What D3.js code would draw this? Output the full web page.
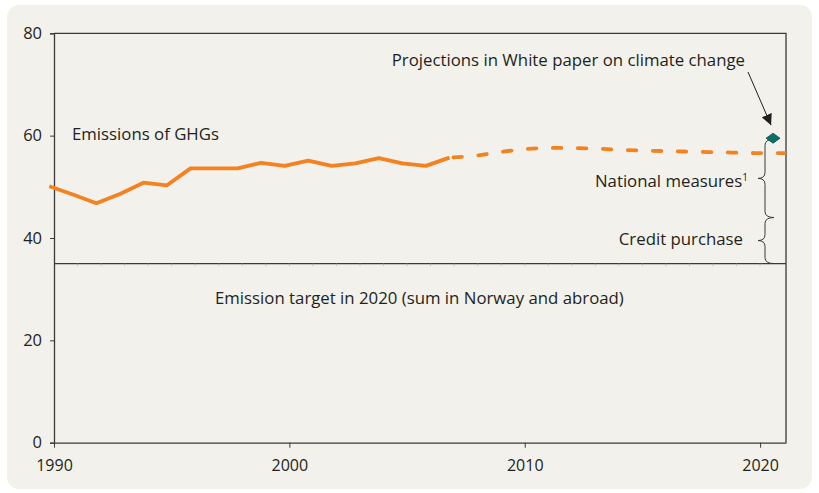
<!DOCTYPE html>
<html>
  <head>
    <script src="https://d3js.org/d3.v7.min.js"></script>
    <style>
      body { margin: 0; background: #ffffff; }
      text { font-family: "Open Sans", sans-serif; fill: #231f20; }
    </style>
  </head>
  <body>
    <script>

    // historic emissions (solid line), million tonnes CO2-eq
    var histYears = [1990, 1991, 1992, 1993, 1994, 1995, 1996, 1997, 1998,
                     1999, 2000, 2001, 2002, 2003, 2004, 2005, 2006, 2007];
    var histValues = [50.1, 48.5, 46.8, 48.6, 50.8, 50.3, 53.6, 53.6, 53.6,
                      54.7, 54.1, 55.1, 54.1, 54.6, 55.6, 54.6, 54.1, 55.7];

    // projected emissions (dashed line)
    var projYears = [2007, 2008, 2009, 2010, 2011, 2012, 2013, 2014, 2015,
                     2016, 2017, 2018, 2019, 2020, 2021, 2022];
    var projValues = [55.7, 56.0, 56.7, 57.3, 57.6, 57.6, 57.5, 57.3, 57.1,
                      57.0, 56.9, 56.8, 56.7, 56.6, 56.6, 56.6];

    // white paper projection point, target and brace ranges
    var whitePaper = { year: 2020.75, value: 59.5 };
    var target = 35;
    var braces = [[59.3, 44.0], [44.0, 35]];

    var xTicks = [1990, 2000, 2010, 2020];
    var yTicks = [0, 20, 40, 60, 80];

    var w = 819;
    var h = 493;
    var plotL = 54, plotR = 786, plotT = 33.3, plotB = 442.7;
    var yearShift = -0.2; // the source line sits slightly left of the axis ticks
    var labelSize = "16.8px";

    var x = d3.scaleLinear().domain([1990, 2021.1]).range([plotL, plotR]);
    var y = d3.scaleLinear().domain([0, 80]).range([plotB, plotT]);

    var svg = d3.select("body")
      .append("svg")
      .attr("width", w)
      .attr("height", h);

    // panel background
    svg.append("rect")
      .attr("x", 7).attr("y", 5)
      .attr("width", 805).attr("height", 484)
      .attr("rx", 12)
      .attr("fill", "#f2f1eb");

    var defs = svg.append("defs");
    defs.append("clipPath").attr("id", "clip")
      .append("rect")
      .attr("x", 0).attr("y", 0)
      .attr("width", plotR).attr("height", h);

    defs.append("marker")
      .attr("id", "arrow")
      .attr("viewBox", "0 0 10 10")
      .attr("refX", 10).attr("refY", 5)
      .attr("markerWidth", 11).attr("markerHeight", 11)
      .attr("markerUnits", "userSpaceOnUse")
      .attr("orient", "auto")
      .append("path")
      .attr("d", "M0,0L10,5L0,10Z")
      .attr("fill", "#231f20");

    // frame (top and right)
    svg.append("path")
      .attr("d", "M" + plotL + "," + plotT + "H" + plotR + "V" + plotB)
      .attr("fill", "none")
      .attr("stroke", "#3a3a3a")
      .attr("stroke-width", 1.3);

    // y axis
    var yAxis = svg.append("g")
      .attr("transform", "translate(" + plotL + ",0)")
      .call(d3.axisLeft(y).tickValues(yTicks).tickSize(4).tickPadding(8));
    yAxis.select(".domain").attr("stroke", "#3a3a3a").attr("stroke-width", 1.3);
    yAxis.selectAll(".tick line").attr("stroke", "#3a3a3a");
    yAxis.selectAll("text").attr("font-size", "16.5px").attr("fill", "#231f20")
      .attr("font-family", "Open Sans");

    // x axis
    var xAxis = svg.append("g")
      .attr("transform", "translate(0," + plotB + ")")
      .call(d3.axisBottom(x).tickValues(xTicks).tickFormat(d3.format("d"))
        .tickSize(5).tickPadding(12).tickSizeOuter(0));
    xAxis.select(".domain").attr("stroke", "#3a3a3a").attr("stroke-width", 1.3);
    xAxis.selectAll(".tick line").attr("stroke", "#3a3a3a");
    xAxis.selectAll("text").attr("font-size", "16px").attr("fill", "#231f20")
      .attr("font-family", "Open Sans");

    // target line with small yearly ticks
    svg.append("line")
      .attr("x1", plotL).attr("x2", plotR)
      .attr("y1", y(target)).attr("y2", y(target))
      .attr("stroke", "#3a3a3a")
      .attr("stroke-width", 1.3);
    svg.selectAll(".minor")
      .data(d3.range(1991, 2021))
      .enter()
      .append("line")
      .attr("class", "minor")
      .attr("x1", function(d) { return x(d); })
      .attr("x2", function(d) { return x(d); })
      .attr("y1", y(target))
      .attr("y2", y(target) + 2.5)
      .attr("stroke", "#b5b3ad")
      .attr("stroke-width", 0.8);

    var line = d3.line()
      .x(function(d) { return x(d[0] + yearShift); })
      .y(function(d) { return y(d[1]); });

    svg.append("path")
      .datum(d3.zip(histYears, histValues))
      .attr("d", line)
      .attr("fill", "none")
      .attr("stroke", "#f58220")
      .attr("stroke-width", 3.8)
      .attr("stroke-linejoin", "round");

    svg.append("path")
      .datum(d3.zip(projYears, projValues))
      .attr("d", line)
      .attr("clip-path", "url(#clip)")
      .attr("fill", "none")
      .attr("stroke", "#f58220")
      .attr("stroke-width", 3.8)
      .attr("stroke-dasharray", "8.5,16.5")
      .attr("stroke-dashoffset", 21)
      .attr("stroke-linecap", "round");

    // curly braces pointing left
    function brace(x0, y0, y1) {
      var m = (y0 + y1) / 2;
      var s = y0 < y1 ? 1 : -1;
      return "M" + (x0 + 9) + "," + y0 +
        "Q" + x0 + "," + y0 + " " + x0 + "," + (y0 + 6 * s) +
        "L" + x0 + "," + (m - 6 * s) +
        "Q" + x0 + "," + m + " " + (x0 - 7) + "," + m +
        "Q" + x0 + "," + m + " " + x0 + "," + (m + 6 * s) +
        "L" + x0 + "," + (y1 - 6 * s) +
        "Q" + x0 + "," + y1 + " " + (x0 + 9) + "," + y1;
    }
    svg.selectAll(".brace")
      .data(braces)
      .enter()
      .append("path")
      .attr("class", "brace")
      .attr("d", function(d) { return brace(765, y(d[0]), y(d[1])); })
      .attr("fill", "none")
      .attr("stroke", "#3a3a3a")
      .attr("stroke-width", 1);

    // white paper point
    var dx = x(whitePaper.year + yearShift), dy = y(whitePaper.value);
    svg.append("path")
      .attr("d", "M" + (dx - 7) + "," + dy + "L" + dx + "," + (dy - 5) +
                 "L" + (dx + 7) + "," + dy + "L" + dx + "," + (dy + 5) + "Z")
      .attr("fill", "#0b6f6c")
      .attr("stroke", "#0a4f4d")
      .attr("stroke-width", 0.8);

    // arrow to the point
    svg.append("line")
      .attr("x1", 748).attr("y1", 72)
      .attr("x2", dx - 2).attr("y2", dy - 13)
      .attr("stroke", "#231f20")
      .attr("stroke-width", 1)
      .attr("marker-end", "url(#arrow)");

    // labels
    svg.append("text")
      .attr("x", 72).attr("y", 140)
      .attr("font-size", labelSize)
      .text("Emissions of GHGs");

    svg.append("text")
      .attr("x", 745).attr("y", 66)
      .attr("text-anchor", "end")
      .attr("font-size", labelSize)
      .text("Projections in White paper on climate change");

    var nm = svg.append("text")
      .attr("x", 748).attr("y", 187)
      .attr("text-anchor", "end")
      .attr("font-size", labelSize);
    nm.append("tspan").text("National measures");
    nm.append("tspan").attr("font-size", "10px").attr("dy", -6).text("1");

    svg.append("text")
      .attr("x", 743).attr("y", 245)
      .attr("text-anchor", "end")
      .attr("font-size", labelSize)
      .text("Credit purchase");

    svg.append("text")
      .attr("x", 215).attr("y", 304)
      .attr("font-size", labelSize)
      .text("Emission target in 2020 (sum in Norway and abroad)");

    </script>
  </body>
</html>
